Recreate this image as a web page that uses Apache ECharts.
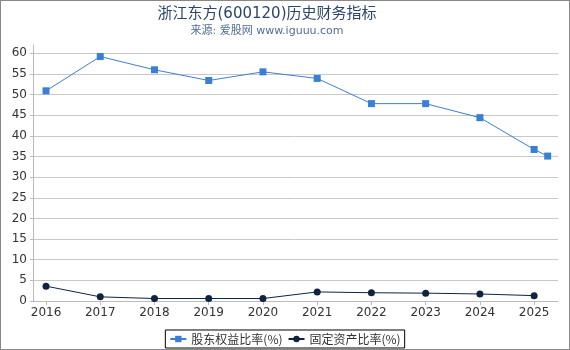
<!DOCTYPE html>
<html>
<head>
<meta charset="utf-8">
<script src="https://cdn.jsdelivr.net/npm/echarts@6/dist/echarts.min.js"></script>
<style>
  html, body { margin: 0; padding: 0; background: #fff; }
  #chart { width: 568px; height: 348px; border: 1px solid #888; }
</style>
</head>
<body>
<div id="chart"></div>
<script>
// x positions as fractional years (last equity point is an interim report)
const equityX = [2016, 2017, 2018, 2019, 2020, 2021, 2022, 2023, 2024, 2025, 2025.25];
const equityValues = [50.9, 59.2, 56.0, 53.4, 55.5, 53.9, 47.8, 47.8, 44.4, 36.7, 35.1];
const fixedX = [2016, 2017, 2018, 2019, 2020, 2021, 2022, 2023, 2024, 2025];
const fixedValues = [3.6, 1.0, 0.6, 0.6, 0.6, 2.2, 2.0, 1.9, 1.7, 1.3];
const yearTicks = [2016, 2017, 2018, 2019, 2020, 2021, 2022, 2023, 2024, 2025];
const yTicks = [0, 5, 10, 15, 20, 25, 30, 35, 40, 45, 50, 55, 60];

const chart = echarts.init(document.getElementById('chart'));
const font = 'DejaVu Sans, Noto Sans CJK SC, sans-serif';
const cjk = 'Noto Sans CJK SC, sans-serif';

chart.setOption({
  animation: false,
  title: {
    text: '浙江东方(600120)历史财务指标',
    subtext: '来源: 爱股网 www.iguuu.com',
    left: 261,
    textAlign: 'center',
    top: 1,
    itemGap: 4,
    textStyle: { fontSize: 15, fontWeight: 'normal', color: '#2b4668', fontFamily: font },
    subtextStyle: { fontSize: 11, color: '#4f6d96', fontFamily: font }
  },
  legend: {
    bottom: 1,
    left: 'center',
    borderColor: '#000',
    borderWidth: 1,
    borderRadius: 0,
    padding: [3, 4],
    itemGap: 5,
    itemWidth: 16,
    itemHeight: 8,
    textStyle: { fontSize: 12, color: '#333', fontFamily: cjk },
    data: ['股东权益比率(%)', '固定资产比率(%)']
  },
  grid: { left: 32, right: 11, top: 44, bottom: 48 },
  xAxis: {
    type: 'value',
    min: 2015.76,
    max: 2025.44,
    axisLine: { show: true, lineStyle: { color: '#bbb' } },
    axisTick: { show: true, customValues: yearTicks, length: 4, lineStyle: { color: '#bbb' } },
    axisLabel: {
      customValues: yearTicks,
      formatter: (v) => String(Math.round(v)),
      color: '#333', fontSize: 12, fontFamily: font, margin: 6
    },
    splitLine: { show: false }
  },
  yAxis: {
    type: 'value',
    min: 0,
    max: 62,
    axisLine: { show: true, lineStyle: { color: '#bbb' } },
    axisTick: { show: true, customValues: yTicks, length: 3, lineStyle: { color: '#bbb' } },
    axisLabel: { customValues: yTicks, color: '#333', fontSize: 12, fontFamily: font, margin: 6 },
    splitLine: { show: true, lineStyle: { color: '#c8c8c8' } }
  },
  series: [
    {
      name: '股东权益比率(%)',
      type: 'line',
      data: equityX.map((x, i) => [x, equityValues[i]]),
      symbol: 'rect',
      symbolSize: 7,
      itemStyle: { color: '#3a7fd6' },
      lineStyle: { color: '#3a7fd6', width: 1 }
    },
    {
      name: '固定资产比率(%)',
      type: 'line',
      data: fixedX.map((x, i) => [x, fixedValues[i]]),
      symbol: 'circle',
      symbolSize: 7,
      itemStyle: { color: '#0f2440' },
      lineStyle: { color: '#0f2440', width: 1 }
    }
  ]
});
</script>
</body>
</html>
